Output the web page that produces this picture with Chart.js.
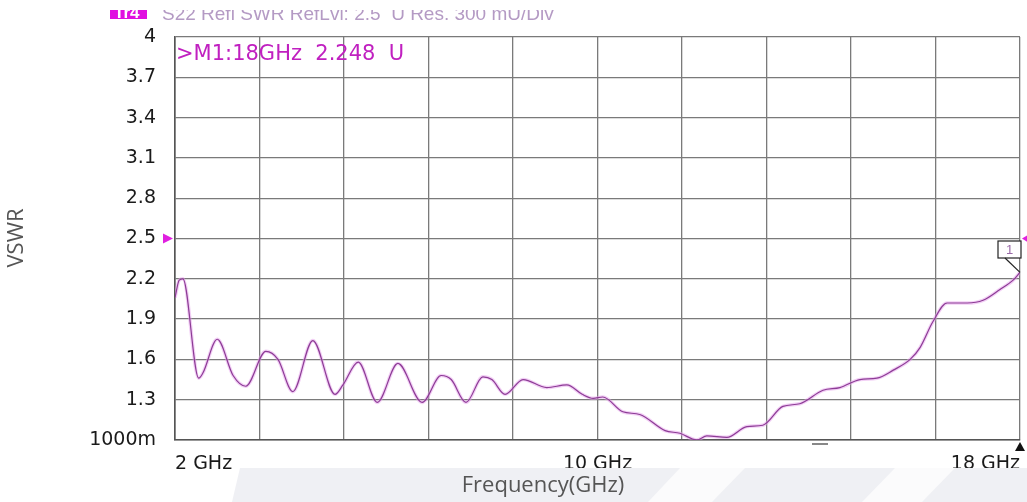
<!DOCTYPE html>
<html>
<head>
<meta charset="utf-8">
<script src="https://cdn.jsdelivr.net/npm/chart.js@4.4.1/dist/chart.umd.min.js"></script>
<style>
  html, body { margin: 0; padding: 0; background: #fff; }
  canvas { display: block; }
</style>
</head>
<body>
<canvas id="vswr" width="1027" height="502"></canvas>
<script>
// S22 VSWR trace
const FREQ_GHZ = [2.0, 2.08, 2.15, 2.45, 2.53, 2.80, 3.10, 3.34, 3.72, 3.95, 4.23, 4.61, 5.03, 5.18, 5.47,
  5.83, 6.22, 6.68, 7.04, 7.23, 7.51, 7.83, 8.00, 8.25, 8.59, 9.04, 9.42, 9.71, 9.92, 10.10, 10.48, 10.80,
  11.28, 11.56, 11.88, 12.07, 12.45, 12.83, 13.13, 13.51, 13.83, 14.27, 14.59, 14.97, 15.29, 15.60, 15.92,
  16.11, 16.35, 16.62, 17.00, 17.30, 17.62, 17.87, 18.0]
const VSWR = [2.06, 2.19, 2.2, 1.46, 1.50, 1.75, 1.48, 1.40, 1.66, 1.60, 1.36, 1.74, 1.34, 1.41, 1.58,
  1.28, 1.57, 1.28, 1.48, 1.45, 1.28, 1.47, 1.45, 1.34, 1.45, 1.39, 1.41, 1.34, 1.31, 1.32, 1.21, 1.19,
  1.07, 1.05, 1.0, 1.03, 1.02, 1.10, 1.11, 1.25, 1.27, 1.37, 1.39, 1.45, 1.46, 1.52, 1.60, 1.69, 1.88,
  2.02, 2.02, 2.04, 2.12, 2.19, 2.248]

const X_GRID = [2, 3.6, 5.2, 6.8, 8.4, 10, 11.6, 13.2, 14.8, 16.4, 18]
const X_LABELS = { 2: "2 GHz", 10: "10 GHz", 18: "18 GHz" }
const Y_TICKS = [1, 1.3, 1.6, 1.9, 2.2, 2.5, 2.8, 3.1, 3.4, 3.7, 4]
const Y_LABELS = ["1000m", "1.3", "1.6", "1.9", "2.2", "2.5", "2.8", "3.1", "3.4", "3.7", "4"]

const REF_LEVEL = 2.5
const HEADER = "S22 Refl SWR RefLvl: 2.5  U Res. 300 mU/Div"
const MARKER_TEXT = ">M1:18GHz  2.248  U"

const points = FREQ_GHZ.map((f, i) => ({ x: f, y: VSWR[i] }))

function tri(ctx, pts, color) {
  ctx.fillStyle = color
  ctx.beginPath()
  ctx.moveTo(pts[0][0], pts[0][1])
  ctx.lineTo(pts[1][0], pts[1][1])
  ctx.lineTo(pts[2][0], pts[2][1])
  ctx.closePath()
  ctx.fill()
}

const decorations = {
  id: "decorations",
  afterDraw(chart) {
    const { ctx, chartArea: area, scales } = chart
    const xs = scales.x, ys = scales.y
    ctx.save()

    // header line, cut off at the top as in the screenshot
    ctx.save()
    ctx.beginPath()
    ctx.rect(0, 10, chart.width, 30)
    ctx.clip()
    ctx.fillStyle = "#e010e0"
    ctx.fillRect(110, 0, 37, 19)
    ctx.font = "bold 17px 'Liberation Sans'"
    ctx.fillStyle = "#fff"
    ctx.textBaseline = "alphabetic"
    ctx.fillText("Tr4", 114, 18)
    ctx.font = "19px 'Liberation Sans'"
    ctx.fillStyle = "#b49ac4"
    ctx.fillText(HEADER, 162, 20)
    ctx.restore()

    // marker readout
    ctx.font = "21px 'DejaVu Sans'"
    ctx.fillStyle = "#c020c0"
    ctx.textBaseline = "alphabetic"
    ctx.fillText(MARKER_TEXT, area.left + 1, 60)

    // reference level arrows
    const yRef = ys.getPixelForValue(REF_LEVEL)
    tri(ctx, [[163, yRef - 5], [163, yRef + 5], [173, yRef]], "#e020e0")
    tri(ctx, [[chart.width + 3, yRef - 5], [chart.width + 3, yRef + 5], [area.right + 2, yRef]], "#e020e0")

    // marker 1 box and leader
    const last = points[points.length - 1]
    const mx = xs.getPixelForValue(last.x), my = ys.getPixelForValue(last.y)
    ctx.strokeStyle = "#222"
    ctx.lineWidth = 1.2
    ctx.fillStyle = "#fff"
    ctx.fillRect(998, 241, 23, 17)
    ctx.strokeRect(998, 241, 23, 17)
    ctx.font = "13px 'Liberation Sans'"
    ctx.fillStyle = "#9a6aa8"
    ctx.textAlign = "center"
    ctx.fillText("1", 1009.5, 254)
    ctx.beginPath()
    ctx.moveTo(1005, 258)
    ctx.lineTo(mx, my)
    ctx.stroke()

    // small stop marker and dash under the axis
    tri(ctx, [[area.right - 5, area.bottom + 11], [area.right + 5, area.bottom + 11], [area.right, area.bottom + 2]], "#111")
    ctx.fillStyle = "#888"
    ctx.fillRect(812, area.bottom + 3, 16, 2)

    // light watermark band at the bottom
    ctx.fillStyle = "#eff0f4"
    ctx.beginPath()
    ctx.moveTo(240, 468)
    ctx.lineTo(chart.width, 468)
    ctx.lineTo(chart.width, chart.height)
    ctx.lineTo(232, chart.height)
    ctx.closePath()
    ctx.fill()
    ctx.fillStyle = "#fbfbfc"
    ctx.beginPath()
    ctx.moveTo(680, 468); ctx.lineTo(745, 468); ctx.lineTo(712, chart.height); ctx.lineTo(648, chart.height)
    ctx.closePath()
    ctx.fill()
    ctx.beginPath()
    ctx.moveTo(895, 468); ctx.lineTo(955, 468); ctx.lineTo(922, chart.height); ctx.lineTo(862, chart.height)
    ctx.closePath()
    ctx.fill()

    // axis titles
    ctx.fillStyle = "#555"
    ctx.font = "22px 'Open Sans'"
    ctx.textAlign = "center"
    ctx.textBaseline = "middle"
    ctx.fillText("Frequency(GHz)", 543, 486)
    ctx.translate(17, 238)
    ctx.rotate(-Math.PI / 2)
    ctx.fillText("VSWR", 0, 0)

    ctx.restore()
  }
}

new Chart(document.getElementById("vswr"), {
  type: "line",
  data: {
    datasets: [
      {
        data: points,
        borderColor: "#8d3c96",
        borderWidth: 1.2,
        pointRadius: 0,
        cubicInterpolationMode: "monotone",
        fill: false,
        order: 1
      },
      {
        data: points,
        borderColor: "rgba(230, 160, 235, 0.5)",
        borderWidth: 3.5,
        pointRadius: 0,
        cubicInterpolationMode: "monotone",
        fill: false,
        order: 2
      }
    ]
  },
  options: {
    responsive: false,
    animation: false,
    layout: { padding: { top: 37, right: 7, left: 0, bottom: 0 } },
    plugins: { legend: { display: false }, tooltip: { enabled: false } },
    scales: {
      x: {
        type: "linear",
        min: 2,
        max: 18,
        afterBuildTicks: (scale) => { scale.ticks = X_GRID.map(v => ({ value: v })) },
        afterFit: (scale) => {
          scale.height = 62
          scale.paddingLeft = 0
          scale.paddingRight = 0
        },
        grid: { color: "#7a7a7a", lineWidth: 1.3, drawTicks: false },
        border: { color: "#555", width: 1.6 },
        ticks: {
          autoSkip: false,
          maxRotation: 0,
          align: "inner",
          padding: 13,
          color: "#1a1a1a",
          font: { family: "DejaVu Sans", size: 19 },
          callback: (v) => X_LABELS[Math.round(v * 10) / 10] || ""
        }
      },
      y: {
        min: 1,
        max: 4,
        afterBuildTicks: (scale) => { scale.ticks = Y_TICKS.map(v => ({ value: v })) },
        afterFit: (scale) => { scale.width = 175 },
        grid: { color: "#7a7a7a", lineWidth: 1.3, drawTicks: false },
        border: { color: "#555", width: 1.6 },
        ticks: {
          padding: 19,
          color: "#1a1a1a",
          font: { family: "DejaVu Sans", size: 19 },
          callback: (v) => {
            const i = Y_TICKS.findIndex(t => Math.abs(t - v) < 1e-6)
            return i >= 0 ? Y_LABELS[i] : ""
          }
        }
      }
    }
  },
  plugins: [decorations]
})
</script>
</body>
</html>
